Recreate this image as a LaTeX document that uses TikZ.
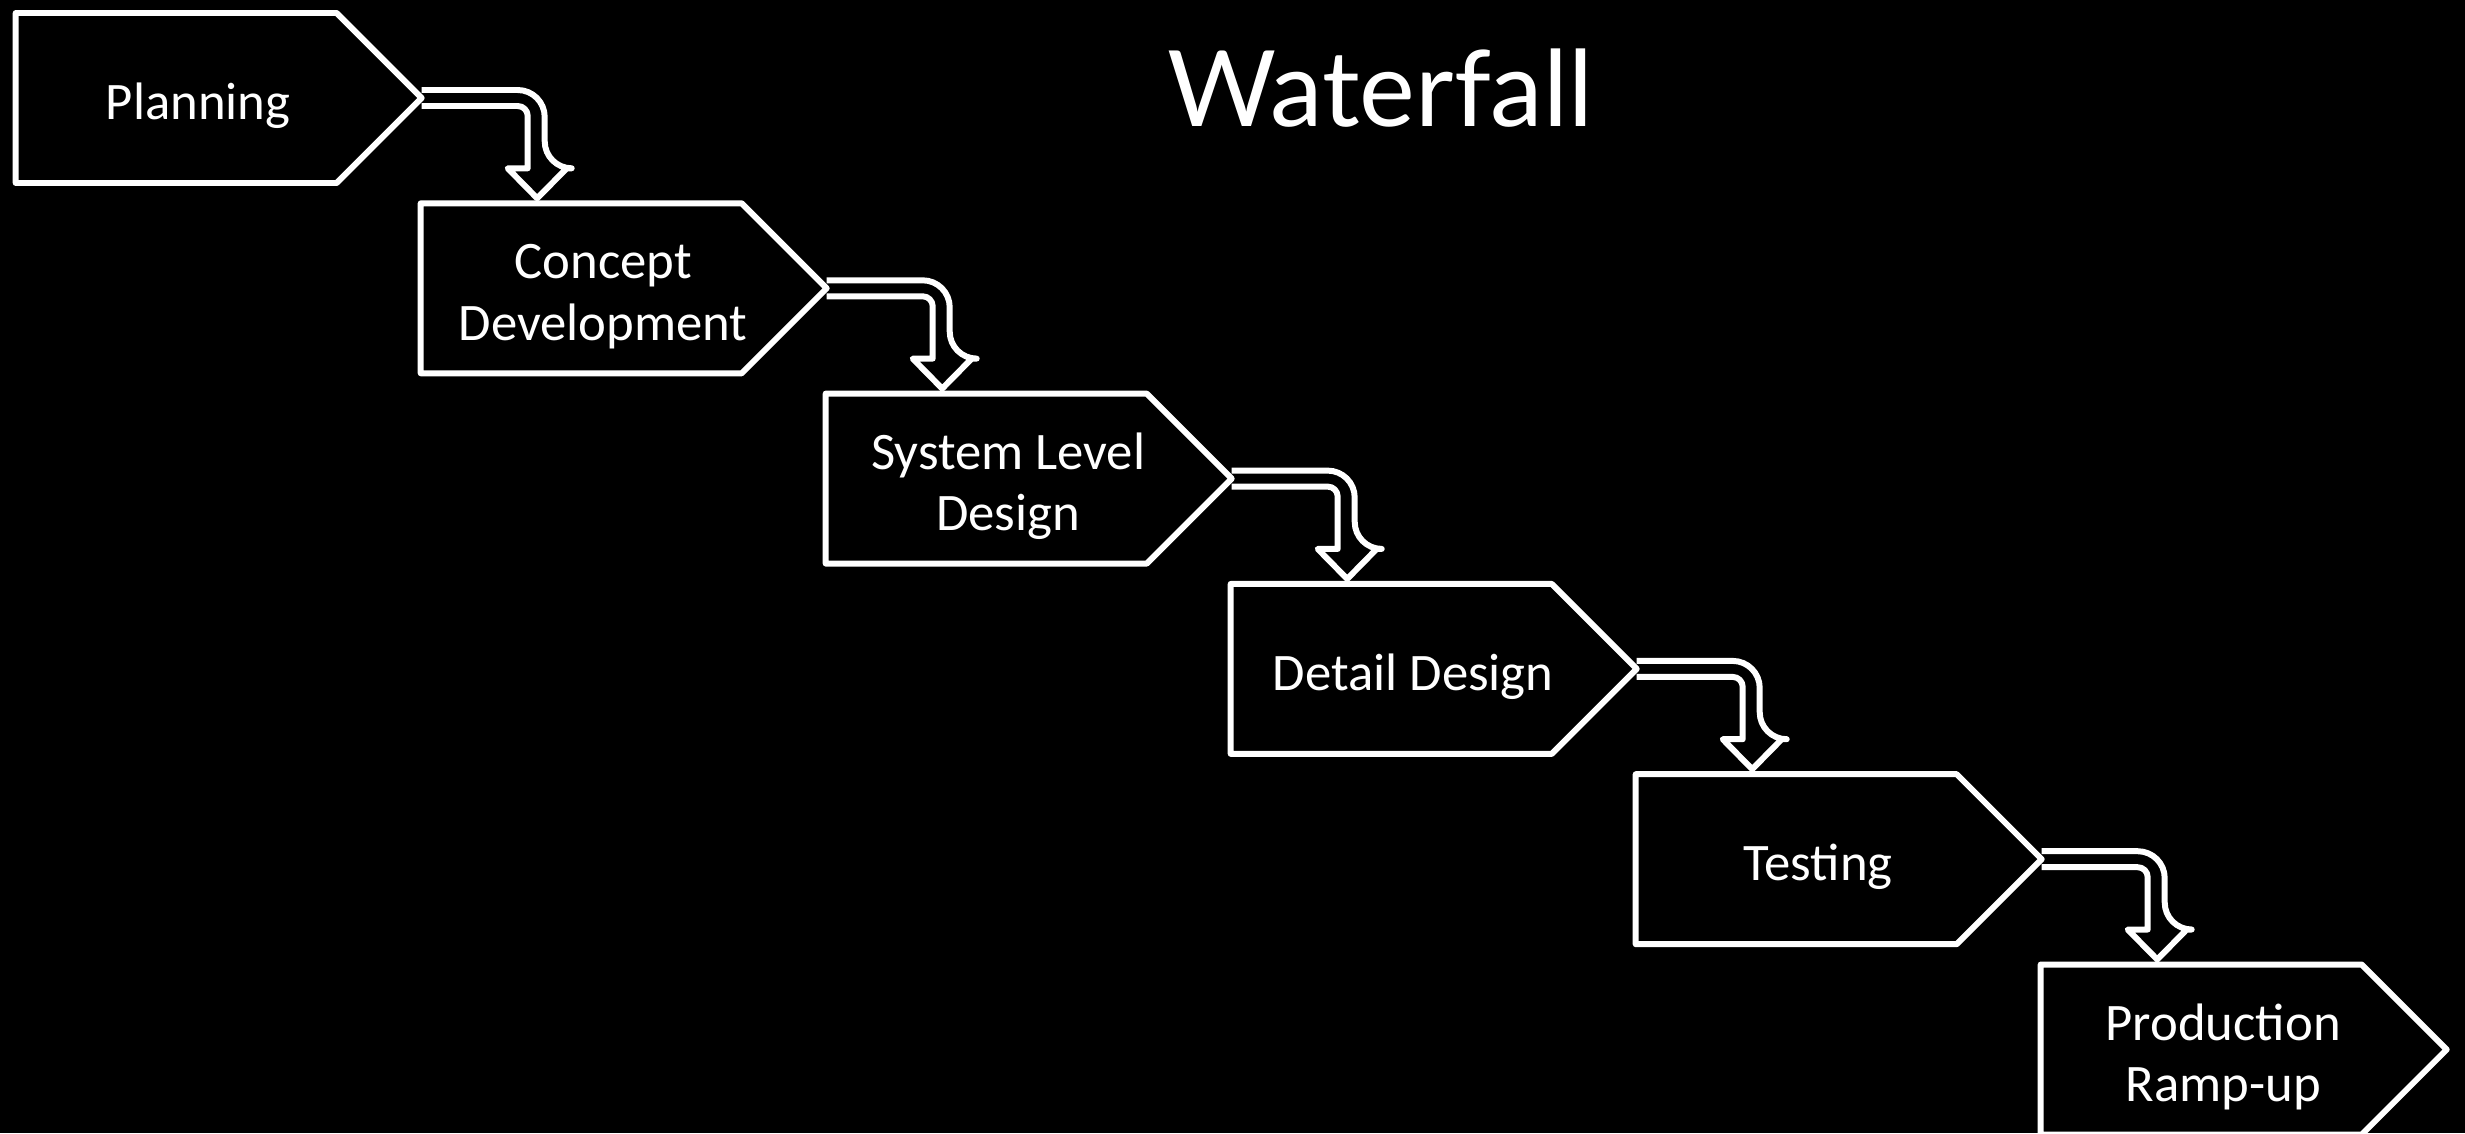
\documentclass[tikz,border=0pt]{standalone}
\usepackage{fontspec}
\setmainfont{Carlito}
\newfontfamily\titlefont{Lato}
\usetikzlibrary{shapes.symbols,calc}

\newcommand{\stagelabel}[1]{\hspace*{0.44cm}\makebox[2.77cm]{\raisebox{-0.09cm}[\height][\depth]{\begin{tabular}{@{}c@{}}#1\end{tabular}}}}

\tikzset{
  stage/.style={draw=white, line width=1.7pt, line join=round, signal, signal to=east,
    signal pointer angle=90, minimum width=4.06cm, minimum height=1.70cm,
    inner sep=0pt, outer sep=0pt, anchor=west, text=white,
    font=\fontsize{15}{17.5}\selectfont},
  flow/.style={draw=white, line width=1.7pt, line join=round}
}

\begin{document}
\begin{tikzpicture}
  \fill[black] (0,0) rectangle (24.65,11.33);
  \useasboundingbox (0,0) rectangle (24.65,11.33);
  \node[text=white, font=\titlefont\fontsize{30}{30}\selectfont, anchor=base] (title) at (13.8,10.07) {Waterfall};
  \foreach \name/\txt [count=\i from 0] in {plan/Planning, concept/{Concept\\Development},
      system/{System Level\\Design}, detail/Detail Design, testing/Testing, rampup/{Production\\Ramp-up}}
    \node[stage] (\name) at ({0.157+4.05*\i},{10.35-1.903*\i}) {\stagelabel{\txt}};
  \foreach \a/\b in {plan/concept, concept/system, system/detail, detail/testing, testing/rampup}
    \draw[flow] let \p1=(\a.east), \p2=(\b.north) in
      (\x1,\y1+0.08cm) [rounded corners=0.27cm] -- (\x1+1.23cm,\y1+0.08cm)
      -- (\x1+1.23cm,\y2+0.35cm) [sharp corners] -- (\x1+1.45cm,\y2+0.35cm)
      -- (\x1+1.155cm,\y2+0.05cm) -- (\x1+0.86cm,\y2+0.35cm) -- (\x1+1.06cm,\y2+0.35cm)
      [rounded corners=0.1cm] -- (\x1+1.06cm,\y1-0.08cm) [sharp corners] -- (\x1,\y1-0.08cm);
\end{tikzpicture}
\end{document}
